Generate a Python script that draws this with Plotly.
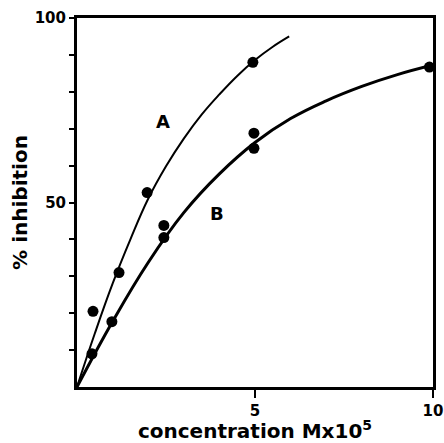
import plotly.graph_objects as go

# measured points
a_x = [0.45, 1.18, 1.97, 4.94]
a_y = [20.5, 31.0, 52.7, 88.0]
b_x = [0.42, 0.98, 2.44, 2.44, 4.97, 4.97, 9.9]
b_y = [9.0, 17.7, 43.8, 40.5, 68.8, 64.7, 86.7]

# drawn curves
curve_a_x = [0, 0.5, 1.0, 1.5, 2.0, 2.5, 3.0, 3.5, 4.0, 4.5, 5.0, 5.5, 5.96]
curve_a_y = [0, 14.5, 28.0, 40.0, 51.0, 59.8, 67.3, 73.8, 79.3, 84.3, 88.6, 92.2, 95.0]
curve_b_x = [0, 1.0, 2.0, 3.0, 4.0, 5.0, 6.0, 7.0, 8.0, 9.0, 10.0]
curve_b_y = [0, 17.75, 33.75, 47.25, 57.75, 66.25, 72.75, 77.55, 81.45, 84.65, 87.25]

x_tick_vals = [5, 10]
x_tick_text = ["5", "10"]
y_tick_vals = [10, 20, 30, 40, 50, 60, 70, 80, 90, 100]
y_tick_text = [" ", " ", " ", " ", "50", " ", " ", " ", " ", "100"]

labels = [("A", 2.42, 72), ("B", 3.93, 47)]

FONT = "DejaVu Sans"

fig = go.Figure()
fig.add_trace(go.Scatter(x=curve_a_x, y=curve_a_y, mode="lines",
                         line=dict(color="black", width=2, shape="spline", smoothing=1.2),
                         showlegend=False, hoverinfo="skip"))
fig.add_trace(go.Scatter(x=curve_b_x, y=curve_b_y, mode="lines",
                         line=dict(color="black", width=3, shape="spline", smoothing=1.2),
                         showlegend=False, hoverinfo="skip"))
fig.add_trace(go.Scatter(x=a_x, y=a_y, mode="markers",
                         marker=dict(color="black", size=11),
                         showlegend=False, cliponaxis=False))
fig.add_trace(go.Scatter(x=b_x, y=b_y, mode="markers",
                         marker=dict(color="black", size=11),
                         showlegend=False, cliponaxis=False))

for t, x, y in labels:
    fig.add_annotation(x=x, y=y, text="<b>%s</b>" % t, showarrow=False,
                       font=dict(family=FONT, size=18, color="black"))

fig.update_layout(
    width=444, height=443,
    margin=dict(l=77, r=11, t=18, b=56, autoexpand=False),
    paper_bgcolor="white", plot_bgcolor="white",
    font=dict(family=FONT, color="black"),
    xaxis=dict(range=[0, 10], showgrid=False, zeroline=False, automargin=False,
               showline=True, linewidth=3, linecolor="black", mirror=True,
               ticks="outside", ticklen=8, tickwidth=2, tickcolor="black",
               tickvals=x_tick_vals, ticktext=["<b>%s</b>" % t for t in x_tick_text],
               tickfont=dict(family=FONT, size=15, color="black", weight="bold"),
               title=dict(text="<b>concentration Mx10<sup>5</sup></b>",
                          font=dict(family=FONT, size=20, color="black"),
                          standoff=9)),
    yaxis=dict(range=[0, 100], showgrid=False, zeroline=False, automargin=False,
               showline=True, linewidth=3, linecolor="black", mirror=True,
               ticks="outside", ticklen=5, tickwidth=2, tickcolor="black",
               tickvals=y_tick_vals, ticktext=["<b>%s</b>" % t for t in y_tick_text],
               tickfont=dict(family=FONT, size=15, color="black", weight="bold"),
               title=dict(text="<b>% inhibition</b>",
                          font=dict(family=FONT, size=20, color="black"),
                          standoff=2)),
)

fig.write_html("out.html")
